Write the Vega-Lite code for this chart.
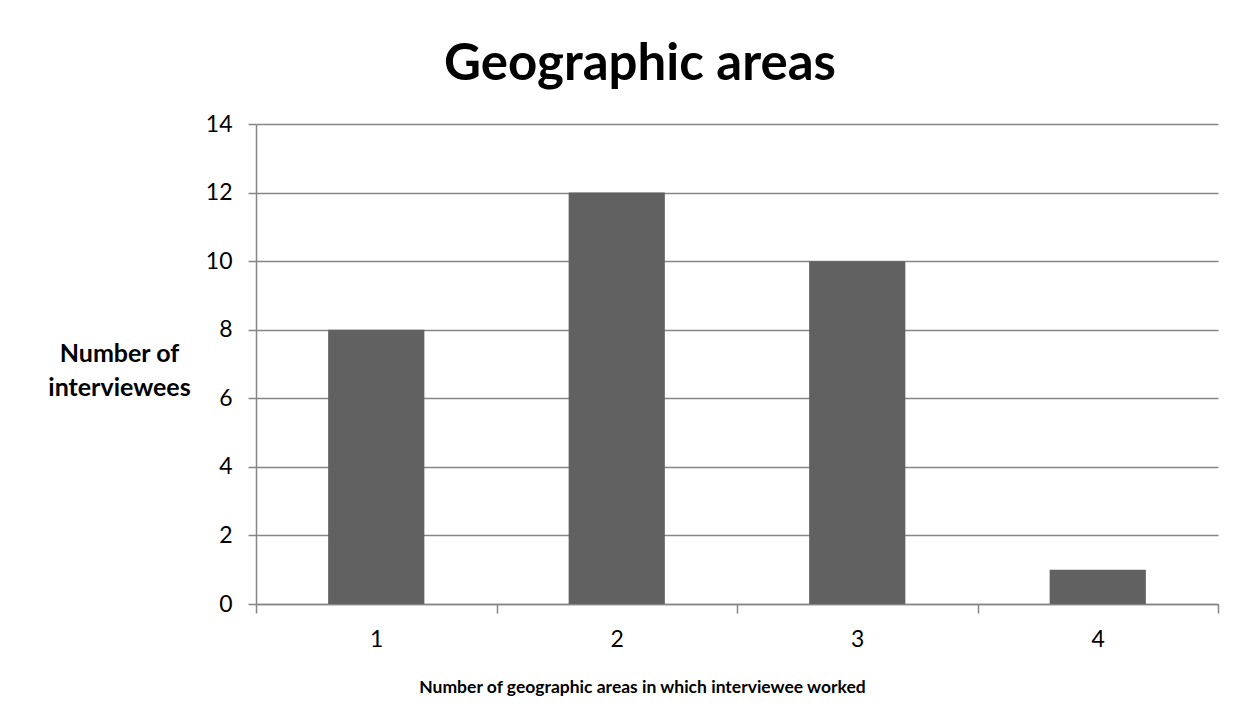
{
  "$schema": "https://vega.github.io/schema/vega-lite/v6.json",
  "autosize": "none",
  "width": 962,
  "height": 480,
  "padding": {"left": 256, "top": 124, "right": 17, "bottom": 116},
  "background": "white",
  "title": {
    "text": "Geographic areas",
    "font": "Lato",
    "fontSize": 51,
    "fontWeight": "bold",
    "color": "#000000",
    "anchor": "middle",
    "frame": "group",
    "dx": -97,
    "dy": 62,
    "baseline": "alphabetic",
    "offset": 44
  },
  "data": {
    "values": [
      {"areas": "1", "count": 8},
      {"areas": "2", "count": 12},
      {"areas": "3", "count": 10},
      {"areas": "4", "count": 1}
    ]
  },
  "mark": {"type": "bar", "color": "#616161", "width": {"band": 0.4}},
  "encoding": {
    "x": {
      "field": "areas",
      "type": "ordinal",
      "scale": {"paddingInner": 0, "paddingOuter": 0},
      "axis": {
        "title": "Number of geographic areas in which interviewee worked",
        "titleFont": "Lato",
        "titleFontSize": 17.5,
        "titleFontWeight": "bold",
        "titleColor": "#000000",
        "titleX": 386,
        "titleY": 88,
        "titleBaseline": "alphabetic",
        "titleAnchor": "middle",
        "labelAngle": 0,
        "labelFont": "Lato",
        "labelFontSize": 23,
        "labelColor": "#000000",
        "labelPadding": 15,
        "tickBand": "extent",
        "tickSize": 9,
        "tickColor": "#868686",
        "domainColor": "#868686",
        "domainWidth": 1.5,
        "tickWidth": 1.5,
        "grid": false
      }
    },
    "y": {
      "field": "count",
      "type": "quantitative",
      "scale": {"domain": [0, 14], "nice": false},
      "axis": {
        "values": [0, 2, 4, 6, 8, 10, 12, 14],
        "title": ["Number of", "interviewees"],
        "titleFont": "Lato",
        "titleFontSize": 25,
        "titleFontWeight": "bold",
        "titleColor": "#000000",
        "titleAngle": 0,
        "titleAlign": "center",
        "titleBaseline": "middle",
        "titleX": -137,
        "titleY": 229,
        "titleLineHeight": 34,
        "labelFont": "Lato",
        "labelFontSize": 23,
        "labelColor": "#000000",
        "labelPadding": 16,
        "tickSize": 8,
        "tickColor": "#868686",
        "tickWidth": 1.5,
        "domainColor": "#868686",
        "domainWidth": 1.5,
        "grid": true,
        "gridColor": "#868686",
        "gridWidth": 1.5
      }
    }
  },
  "config": {"view": {"stroke": null}}
}
